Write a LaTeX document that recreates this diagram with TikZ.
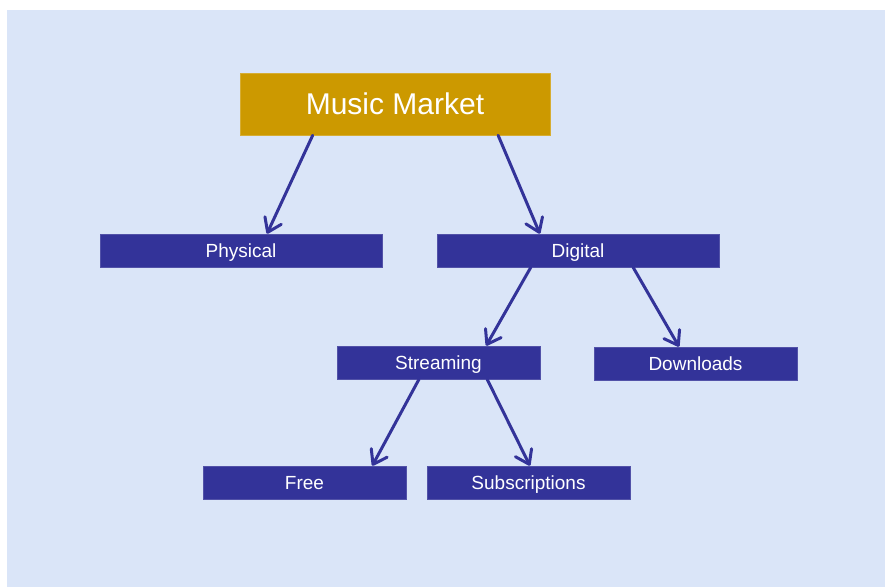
\documentclass[tikz,border=0pt]{standalone}
\usepackage{fontspec}
\setmainfont{Liberation Sans}
\usetikzlibrary{arrows.meta,calc}
\definecolor{bgblue}{HTML}{DAE5F8}
\definecolor{navy}{HTML}{333399}
\definecolor{gold}{HTML}{CC9900}
\tikzset{
  leaf/.style={fill=navy, draw=navy!85!white, line width=0.6pt, text=white,
    minimum width=203pt, minimum height=33pt, inner sep=0pt,
    text height=13.6pt, text depth=0pt,
    font=\fontsize{19}{22}\selectfont},
  wide/.style={leaf, minimum width=282pt},
  root/.style={fill=gold, draw=gold!80!white, line width=0.6pt, text=white,
    minimum width=310pt, minimum height=62pt, inner sep=0pt,
    text height=21.5pt, text depth=0pt,
    font=\fontsize{30}{34}\selectfont},
  link/.style={draw=navy, line width=3pt, line cap=round,
    -{Straight Barb[length=13pt,width=18pt,line width=3pt,round]}}
}
\begin{document}
\begin{tikzpicture}[x=1pt,y=-1pt]
  \useasboundingbox (0,0) rectangle (885,587);
  \fill[white] (0,0) rectangle (885,587);
  \fill[bgblue] (7,10) rectangle (885,587);

  \node[root] (mm) at (395,104) {Music Market};
  \node[wide] (phys) at (241,250.5) {Physical};
  \node[wide] (dig) at (578,250.5) {Digital};
  \node[leaf] (str) at (438.5,362.5) {Streaming};
  \node[leaf] (dl) at (695.5,363.5) {Downloads};
  \node[leaf] (free) at (304.5,482.5) {Free};
  \node[leaf] (subs) at (528.5,482.5) {Subscriptions};

  \draw[link] ($(mm.south west)!0.235!(mm.south east)$) -- ($(phys.north west)!0.592!(phys.north east)$);
  \draw[link] ($(mm.south west)!0.832!(mm.south east)$) -- ($(dig.north west)!0.365!(dig.north east)$);
  \draw[link] ($(dig.south west)!0.333!(dig.south east)$) -- ($(str.north west)!0.734!(str.north east)$);
  \draw[link] ($(dig.south west)!0.695!(dig.south east)$) -- ($(dl.north west)!0.419!(dl.north east)$);
  \draw[link] ($(str.south west)!0.404!(str.south east)$) -- ($(free.north west)!0.833!(free.north east)$);
  \draw[link] ($(str.south west)!0.739!(str.south east)$) -- ($(subs.north west)!0.507!(subs.north east)$);
\end{tikzpicture}
\end{document}
